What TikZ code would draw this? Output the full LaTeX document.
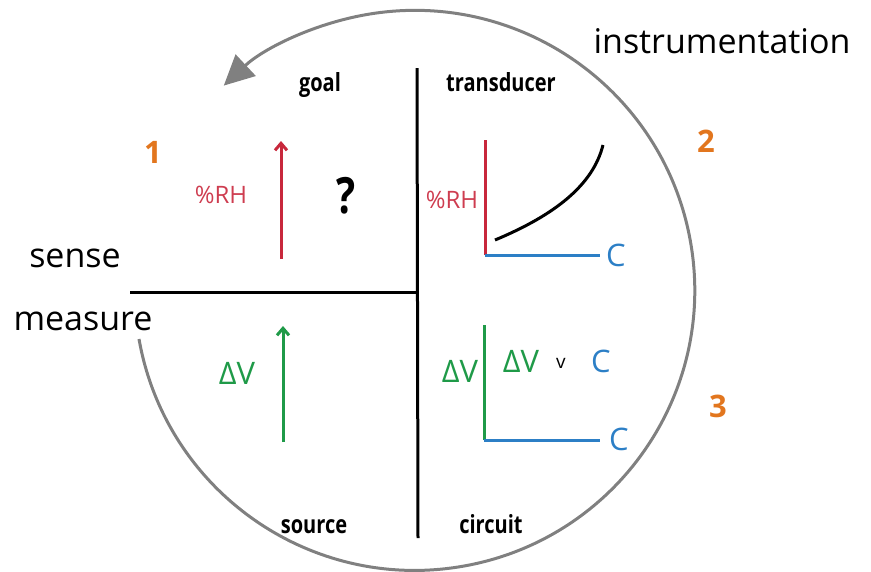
\documentclass[tikz,border=0pt]{standalone}
\usepackage{fontspec}
\setmainfont{Open Sans}
\usepackage{graphicx}
\usetikzlibrary{positioning,arrows.meta}

\definecolor{rhred}{HTML}{C8283C}
\definecolor{vgreen}{HTML}{1F9A48}
\definecolor{cblue}{HTML}{2C7FC6}
\definecolor{tagorange}{HTML}{E2761E}
\definecolor{ringgray}{HTML}{808080}

\newcommand{\narrowbf}[1]{\scalebox{0.8}[1]{\bfseries #1}}

\begin{document}
\begin{tikzpicture}[
x=1pt,
y=-1pt,
every node/.style={inner sep=0pt, anchor=base},
heading/.style={font=\fontsize{25}{25}\selectfont},
word/.style={font=\fontsize{34}{34}\selectfont},
tag/.style={text=tagorange, font=\fontsize{31}{31}\selectfont\bfseries},
qty/.style={font=\fontsize{31}{31}\selectfont},
small/.style={font=\fontsize{24}{24}\selectfont},
divider/.style={line width=3pt},
axis/.style={line width=3pt},
up/.style={line width=3pt, -{Straight Barb[length=7pt,width=12pt]}}
]

\useasboundingbox (0,0) rectangle (871,571);

% ring with arrow
\coordinate (ringstart) at (139,339);
\draw[ringgray, line width=3pt, -{Triangle[length=30pt,width=29pt]}]
  (ringstart) arc[start angle=170, end angle=-133, radius=280];

% quadrant dividers
\coordinate (vtop) at (417,68);
\coordinate (vbot) at (418,538);
\coordinate (hleft) at (130,292);
\coordinate (hright) at (417,292);
\draw[divider] (vtop) -- (vbot);
\draw[divider] (hleft) -- (hright);

% outer labels
\node[word] (instr) at (722,53) {instrumentation};
\node[word] (sense) at (75,267) {sense};
\node[word] (measure) at (83,330) {measure};

\node[tag] (one) at (153,163) {1};
\node[tag] (two) at (706,152) {2};
\node[tag] (three) at (718,417) {3};

% headings
\node[heading] (goal) at (320,91) {\narrowbf{goal}};
\node[heading] (transducer) at (501,91) {\narrowbf{transducer}};
\node[heading] (source) at (314,533) {\narrowbf{source}};
\node[heading] (circuit) at (491,533) {\narrowbf{circuit}};

% goal quadrant
\coordinate (goallow) at (281,259);
\coordinate (goalhigh) at (281,141);
\draw[up, rhred] (goallow) -- (goalhigh);
\node[small, text=rhred!90] (goalrh) at (221,203) {\%RH};
\node[font=\fontsize{50}{50}\selectfont] (what) at (346,213) {\narrowbf{?}};

% source quadrant
\coordinate (srclow) at (283,442);
\coordinate (srchigh) at (283,326);
\draw[up, vgreen] (srclow) -- (srchigh);
\node[qty, text=vgreen] (srcdv) at (237,384) {ΔV};

% transducer quadrant
\coordinate (torigin) at (485,255);
\coordinate (ttop) at (485,140);
\coordinate (tend) at (600,255);
\draw[axis, rhred] (torigin) -- (ttop);
\draw[axis, cblue] (torigin) -- (tend);
\node[small, text=rhred!90] (trh) at (452,208) {\%RH};
\node[qty, text=cblue] (tc) at (616,266) {C};
\coordinate (curvea) at (495,240);
\coordinate (curveb) at (603,145);
\draw[line width=3pt] (curvea) .. controls (555,215) and (593,185) .. (curveb);

% circuit quadrant
\coordinate (corigin) at (484,440);
\coordinate (ctop) at (484,325);
\coordinate (cend) at (600,440);
\draw[axis, vgreen] (corigin) -- (ctop);
\draw[axis, cblue] (corigin) -- (cend);
\node[qty, text=vgreen] (cdv) at (460,382) {ΔV};
\node[qty, text=cblue] (cc) at (619,450) {C};
\node[qty, text=vgreen] (pairdv) at (521,372) {ΔV};
\node[font=\fontsize{19}{19}\selectfont] (versus) at (561,368) {v};
\node[qty, text=cblue] (pairc) at (601,372) {C};

\end{tikzpicture}
\end{document}
